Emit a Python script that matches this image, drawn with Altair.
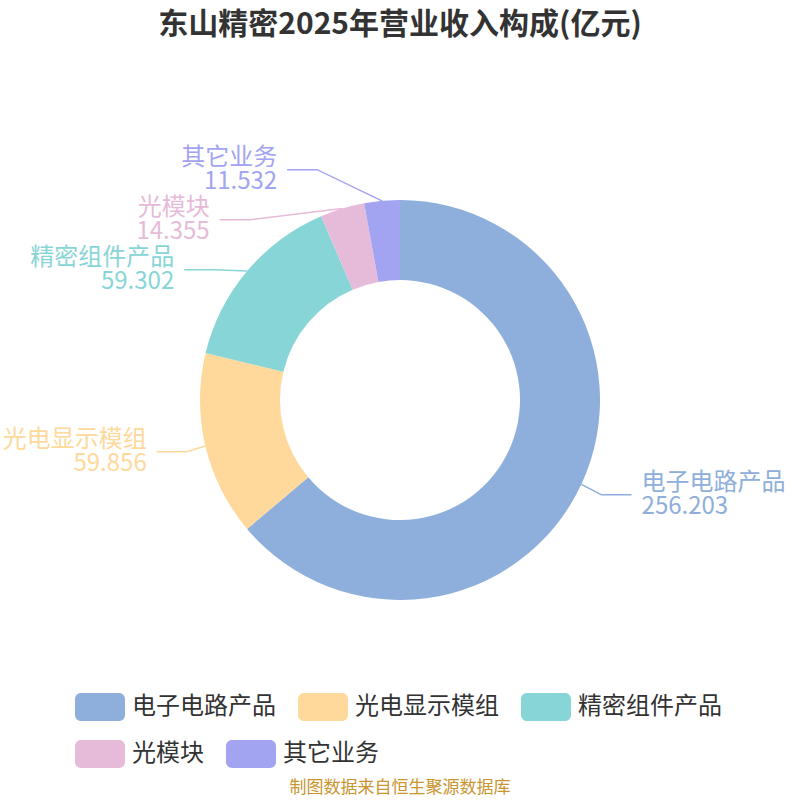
import math
import altair as alt
import numpy as np
import pandas as pd

# ---- data ----
categories = ["电子电路产品", "光电显示模组", "精密组件产品", "光模块", "其它业务"]
values = [256.203, 59.856, 59.302, 14.355, 11.532]
colors = ["#8eaedb", "#fed99b", "#88d5d8", "#e6bbd9", "#a2a4f2"]
title_text = "东山精密2025年营业收入构成(亿元)"
source_text = "制图数据来自恒生聚源数据库"

FONT = "Noto Sans CJK SC"
TOP = 50                 # top padding (title area)
W, H = 800, 800
CX, CY = 400, 400        # pie centre in page pixels
R_OUT, R_IN = 200, 120
LH = 24

df = pd.DataFrame({"name": categories, "value": values,
                   "idx": list(range(len(categories))), "hex": colors})

# ---- label layout (echarts-like) ----
total = float(sum(values))
cum = np.concatenate([[0.0], np.cumsum(values)[:-1]])
mids = [(c + v / 2) / total * 2 * math.pi for c, v in zip(cum, values)]

labels = []
for name, v, col, a in zip(categories, values, colors, mids):
    s, c = math.sin(a), math.cos(a)
    labels.append({"name": name, "value": v, "hex": col, "a": a,
                   "side": "right" if s > 0 else "left",
                   "ex": CX + R_OUT * s, "ey": CY - R_OUT * c,
                   "y": CY - 225 * c})

GAP = 50
for side in ("left", "right"):
    items = sorted([l for l in labels if l["side"] == side], key=lambda d: d["y"])
    groups, cur = [], []
    prev = None
    for it in items:
        orig = it["y"]
        if prev is not None and it["y"] < prev + GAP:
            it["y"] = prev + GAP
            cur.append((it, it["y"] - orig))
        else:
            if cur:
                groups.append(cur)
            cur = [(it, 0.0)]
        prev = it["y"]
    if cur:
        groups.append(cur)
    for g in groups:
        if len(g) > 1:
            mean_push = sum(p for _, p in g) / len(g)
            for it, _ in g:
                it["y"] -= 0.3 * mean_push

line_rows, text_rows = [], []
for l in labels:
    sgn = 1 if l["side"] == "right" else -1
    dy = l["y"] - CY
    elbow_x = CX + sgn * 218 * math.sqrt(max(0.0, 1 - (dy / 249) ** 2))
    end_x = elbow_x + sgn * 30
    for k, (px, py) in enumerate([(l["ex"], l["ey"]), (elbow_x, l["y"]), (end_x, l["y"])]):
        line_rows.append({"name": l["name"], "hex": l["hex"], "seq": k, "px": px, "py": py})
    text_rows.append({"name": l["name"], "hex": l["hex"], "side": l["side"],
                      "label": f"{l['name']}\n{l['value']:.3f}",
                      "tx": end_x + sgn * 10, "ty": l["y"]})

lines_df = pd.DataFrame(line_rows)
text_df = pd.DataFrame(text_rows)

xs = alt.Scale(domain=[0, W])
ys = alt.Scale(domain=[TOP, H], reverse=True)

# rounded rectangle 50x28 px drawn with a nominal symbol size of 28 px
RRECT = ("M -1.357 -1 H 1.357 A 0.43 0.43 0 0 1 1.786 -0.57 V 0.57 "
         "A 0.43 0.43 0 0 1 1.357 1 H -1.357 A 0.43 0.43 0 0 1 -1.786 0.57 "
         "V -0.57 A 0.43 0.43 0 0 1 -1.357 -1 Z")


def legend(vals, ly):
    return alt.Legend(orient="none", legendX=86, legendY=ly, values=vals,
                      direction="horizontal", title=None,
                      symbolType=RRECT, symbolSize=784,
                      symbolStrokeWidth=0, symbolOpacity=1,
                      labelFont=FONT, labelFontSize=24,
                      labelColor="#333333", labelOffset=18,
                      columnPadding=21)


color_scale = alt.Scale(domain=categories, range=colors)

arcs = alt.Chart(df).mark_arc(outerRadius=R_OUT, innerRadius=R_IN).encode(
    theta=alt.Theta("value:Q", stack=True),
    order=alt.Order("idx:Q"),
    color=alt.Color("name:N", sort=categories, scale=color_scale,
                    legend=legend(categories[:3], 643)),
    x=alt.value(CX),
    y=alt.value(CY - TOP),
)

# invisible copy of the ring that carries the second legend row
arcs_row2 = alt.Chart(df).mark_arc(outerRadius=R_OUT, innerRadius=R_IN,
                                   opacity=0).encode(
    theta=alt.Theta("value:Q", stack=True),
    order=alt.Order("idx:Q"),
    color=alt.Color("name:N", sort=categories, scale=color_scale,
                    legend=legend(categories[3:], 690)),
    x=alt.value(CX),
    y=alt.value(CY - TOP),
)

leaders = alt.Chart(lines_df).mark_line(strokeWidth=1.5).encode(
    x=alt.X("px:Q", scale=xs, axis=None),
    y=alt.Y("py:Q", scale=ys, axis=None),
    detail="name:N",
    order="seq:Q",
    color=alt.Color("hex:N", scale=None),
)


def label_layer(side, align):
    return alt.Chart(text_df[text_df["side"] == side]).mark_text(
        font=FONT, fontSize=24, lineBreak="\n", lineHeight=LH,
        align=align, baseline="middle", dy=-LH / 2,
    ).encode(
        x=alt.X("tx:Q", scale=xs, axis=None),
        y=alt.Y("ty:Q", scale=ys, axis=None),
        text="label:N",
        color=alt.Color("hex:N", scale=None),
    )


source = alt.Chart(pd.DataFrame({"t": [source_text]})).mark_text(
    font=FONT, fontSize=17, color="#c8952f", align="center", baseline="middle"
).encode(text="t:N", x=alt.value(400), y=alt.value(788 - TOP))

chart = alt.layer(arcs, arcs_row2, leaders, label_layer("left", "right"),
                  label_layer("right", "left"), source).resolve_scale(
    color="independent"
).properties(
    width=W, height=H - TOP,
    padding={"top": TOP, "left": 0, "right": 0, "bottom": 0},
    autosize=alt.AutoSizeParams(type="none"),
    title=alt.TitleParams(title_text, font=FONT, fontSize=30, fontWeight="bold",
                          color="#333333", anchor="middle", frame="group",
                          offset=10),
).configure_view(stroke=None)

chart.save("out.html", embed_options={"renderer": "svg", "actions": False})
